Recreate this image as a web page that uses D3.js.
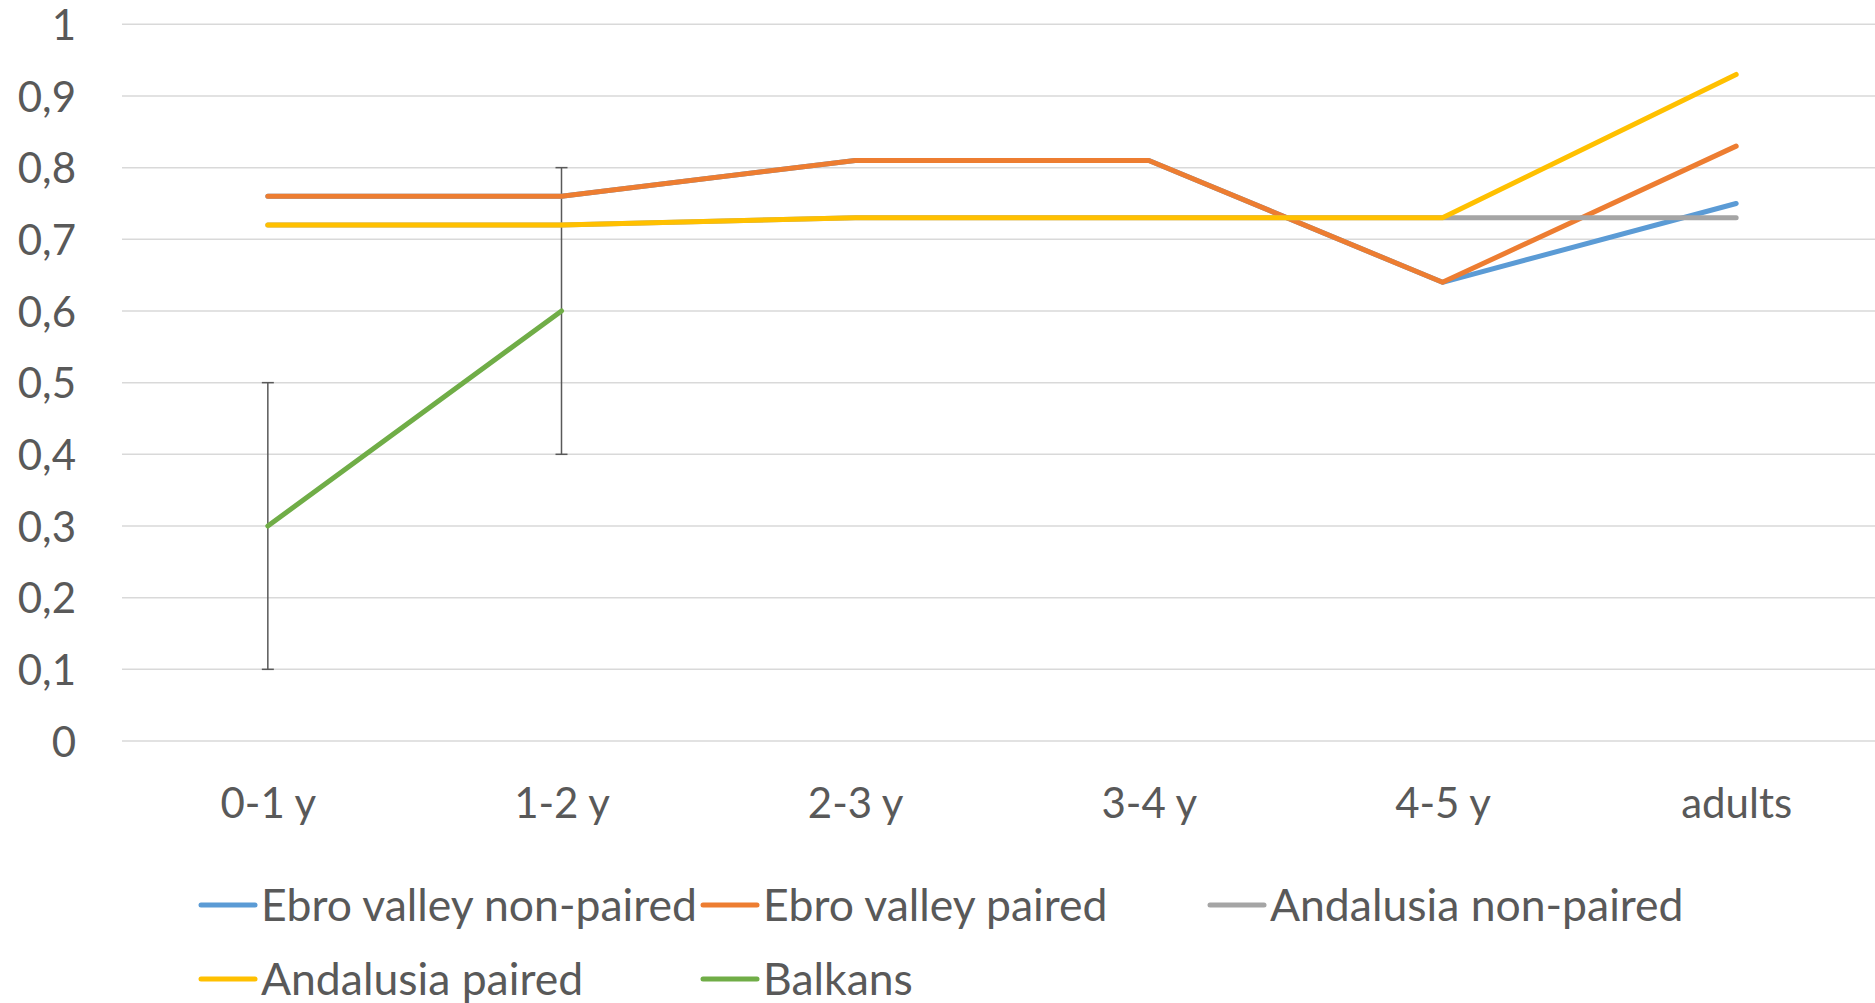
<!DOCTYPE html>
<html>
<head>
<meta charset="utf-8">
<script src="https://cdn.jsdelivr.net/npm/d3@7"></script>
<style>
  html, body { margin: 0; padding: 0; background: #ffffff; }
  svg { display: block; }
  text { font-family: Lato, "Open Sans", sans-serif; fill: #595959; }
</style>
</head>
<body>
<svg id="chart" width="1875" height="1003"></svg>
<script>
const categories = ["0-1 y", "1-2 y", "2-3 y", "3-4 y", "4-5 y", "adults"];
const yTicks = [0, 0.1, 0.2, 0.3, 0.4, 0.5, 0.6, 0.7, 0.8, 0.9, 1];

const ebroNonPaired = [0.76, 0.76, 0.81, 0.81, 0.64, 0.75];
const ebroPaired = [0.76, 0.76, 0.81, 0.81, 0.64, 0.83];
const andalusiaNonPaired = [0.72, 0.72, 0.73, 0.73, 0.73, 0.73];
const andalusiaPaired = [0.72, 0.72, 0.73, 0.73, 0.73, 0.93];
const balkans = [0.3, 0.6, null, null, null, null];
const balkansError = [0.2, 0.2, null, null, null, null];

const seriesNames = ["Ebro valley non-paired", "Ebro valley paired", "Andalusia non-paired", "Andalusia paired", "Balkans"];
const seriesColors = ["#5B9BD5", "#ED7D31", "#A5A5A5", "#FFC000", "#70AD47"];
const seriesValues = [ebroNonPaired, ebroPaired, andalusiaNonPaired, andalusiaPaired, balkans];

const svg = d3.select("#chart");

const x = d3.scalePoint().domain(categories).range([121, 1883]).padding(0.5);
const y = d3.scaleLinear().domain([0, 1]).range([741, 24.3]);

// gridlines
svg.append("g").selectAll("line").data(yTicks).join("line")
  .attr("x1", 122).attr("x2", 1875)
  .attr("y1", d => y(d)).attr("y2", d => y(d))
  .attr("stroke", "#D9D9D9").attr("stroke-width", 1.5);

// y axis labels
const yAxis = d3.axisLeft(y).tickValues(yTicks).tickSize(0).tickPadding(0)
  .tickFormat(d => d3.format("")(d).replace(".", ","));
const yG = svg.append("g").attr("transform", "translate(76,0)").call(yAxis);
yG.select(".domain").remove();
yG.selectAll("text").attr("font-size", 42).attr("font-family", "Lato, sans-serif")
  .attr("fill", "#595959").attr("dy", "0.36em");

// x axis labels
const xAxis = d3.axisBottom(x).tickSize(0).tickPadding(0);
const xG = svg.append("g").attr("transform", "translate(0,818)").call(xAxis);
xG.select(".domain").remove();
xG.selectAll("text").attr("font-size", 42).attr("font-family", "Lato, sans-serif")
  .attr("fill", "#595959").attr("dy", 0).attr("y", 0);

// error bars (Balkans)
const errG = svg.append("g");
categories.forEach((c, i) => {
  if (balkans[i] == null || balkansError[i] == null) return;
  const lo = balkans[i] - balkansError[i], hi = balkans[i] + balkansError[i];
  errG.append("line").attr("x1", x(c)).attr("x2", x(c)).attr("y1", y(lo)).attr("y2", y(hi))
    .attr("stroke", "#595959").attr("stroke-width", 1.5);
  [lo, hi].forEach(v => errG.append("line")
    .attr("x1", x(c) - 6).attr("x2", x(c) + 6).attr("y1", y(v)).attr("y2", y(v))
    .attr("stroke", "#595959").attr("stroke-width", 1.5));
});

// lines
const line = d3.line()
  .defined(d => d.v != null)
  .x(d => x(d.c)).y(d => y(d.v));
seriesValues.forEach((vals, si) => {
  svg.append("path")
    .datum(vals.map((v, i) => ({ c: categories[i], v })))
    .attr("d", line)
    .attr("fill", "none")
    .attr("stroke", seriesColors[si])
    .attr("stroke-width", 5)
    .attr("stroke-linecap", "round")
    .attr("stroke-linejoin", "round");
});

// legend
const legendPos = [
  { x: 201, y: 905 }, { x: 703, y: 905 }, { x: 1210, y: 905 },
  { x: 201, y: 979 }, { x: 703, y: 979 }
];
seriesNames.forEach((name, i) => {
  const g = svg.append("g").attr("transform", `translate(${legendPos[i].x},${legendPos[i].y})`);
  g.append("line").attr("x1", 0).attr("x2", 54).attr("y1", 0).attr("y2", 0)
    .attr("stroke", seriesColors[i]).attr("stroke-width", 5).attr("stroke-linecap", "round");
  g.append("text").attr("x", 60).attr("y", 0).attr("dy", "0.36em")
    .attr("font-size", 44.5).text(name);
});
</script>
</body>
</html>
